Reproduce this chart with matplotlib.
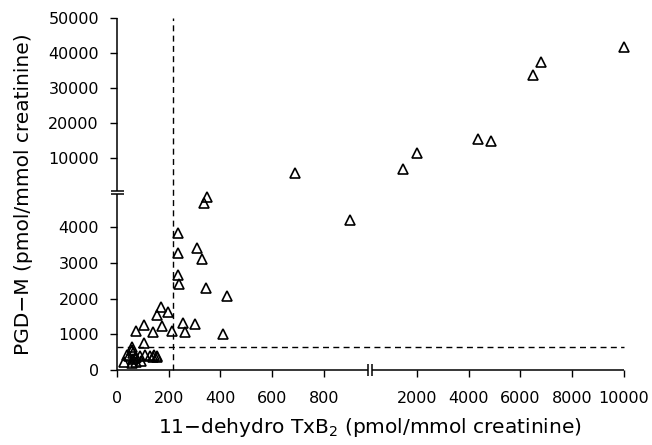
#!/usr/bin/env python3

"""Scatter of urinary PGD-M against 11-dehydro TxB2 on broken (two-segment) axes."""

import numpy as np
import matplotlib

matplotlib.use("Agg")
import matplotlib.pyplot as plt

# data (pmol/mmol creatinine)
txb2 = [
    26, 39, 45, 58, 60, 62, 58, 70, 73, 75, 88, 92, 108, 104, 127, 140, 143, 153, 156, 63,
    73, 104, 140, 156, 169, 175, 198, 214, 257, 263, 302, 409, 427,
    235, 235, 235, 240, 311, 330, 343, 337, 348, 901,
    689, 1447, 1990, 4350, 4860, 6480, 6800, 10000,
]
pgdm = [
    233, 420, 380, 650, 550, 470, 190, 330, 230, 370, 380, 250, 420, 750, 390, 375, 420, 390, 370, 300,
    1090, 1260, 1075, 1540, 1770, 1230, 1630, 1100, 1320, 1070, 1290, 1010, 2070,
    3830, 3290, 2660, 2400, 3430, 3100, 2300, 4680, 4850, 4200,
    5900, 6860, 11430, 15430, 15030, 33800, 37600, 41900,
]

x_ticks = [0, 200, 400, 600, 800, 2000, 4000, 6000, 8000, 10000]
y_ticks = [0, 1000, 2000, 3000, 4000, 10000, 20000, 30000, 40000, 50000]

txb2_cutoff = 215
pgdm_cutoff = 650

# x: 0-1000 linear, then 2000-10000 compressed 10x
X_SPLIT = 1000.0
# y: 0-5100 linear, then 0-50000 compressed ~10x
Y_SPLIT = 5100.0


def fwd_x(x):
    x = np.asarray(x, dtype=float)
    return np.where(x <= X_SPLIT, x, 960.0 + x / 10.0)


def inv_x(u):
    u = np.asarray(u, dtype=float)
    return np.where(u <= X_SPLIT, u, np.where(u >= 1060.0, (u - 960.0) * 10.0, X_SPLIT))


def fwd_y(y):
    y = np.asarray(y, dtype=float)
    return np.where(y <= Y_SPLIT, y, 4950.0 + 0.098 * y)


def inv_y(v):
    v = np.asarray(v, dtype=float)
    lo = 4950.0 + 0.098 * Y_SPLIT
    return np.where(v <= Y_SPLIT, v, np.where(v >= lo, (v - 4950.0) / 0.098, Y_SPLIT))


fig = plt.figure(figsize=(6.52, 4.45), dpi=100)
ax = fig.add_axes([0.1794, 0.1685, 0.7772, 0.7903])
ax.set_xscale("function", functions=(fwd_x, inv_x))
ax.set_yscale("function", functions=(fwd_y, inv_y))
ax.set_xlim(0, 10000)
ax.set_ylim(0, 50000)

for side in ("top", "right", "left", "bottom"):
    ax.spines[side].set_visible(False)

# axis lines with breaks
axis_kw = dict(color="black", lw=1.1, clip_on=False, solid_capstyle="butt")
ax.plot([0, 0], [0, 4922], **axis_kw)
ax.plot([0, 0], [5022, 50000], **axis_kw)
ax.plot([0, 972], [0, 0], **axis_kw)
ax.plot([988, 10000], [0, 0], **axis_kw)
ytr = ax.get_yaxis_transform()
xtr = ax.get_xaxis_transform()
for yb in (4922, 5022):
    ax.plot([-0.012, 0.014], [yb, yb], transform=ytr, **axis_kw)
for xb in (972, 988):
    ax.plot([xb, xb], [-0.016, 0.016], transform=xtr, **axis_kw)

# reference cut-offs
dash_kw = dict(color="black", lw=1.0, dashes=(4.3, 3.1))
ax.plot([txb2_cutoff, txb2_cutoff], [0, 50000], clip_on=False, **dash_kw)
ax.plot([0, 10000], [pgdm_cutoff, pgdm_cutoff], clip_on=False, **dash_kw)

ax.plot(txb2, pgdm, linestyle="none", marker="^", markersize=7.5,
        markerfacecolor="none", markeredgecolor="black", markeredgewidth=1.2,
        clip_on=False)

ax.set_xticks(x_ticks)
ax.set_xticklabels([str(t) for t in x_ticks])
ax.set_yticks(y_ticks)
ax.set_yticklabels([str(t) for t in y_ticks])
ax.minorticks_off()
ax.tick_params(axis="x", direction="out", length=5, width=1.0, pad=10, labelsize=11.5)
ax.tick_params(axis="y", direction="out", length=5, width=1.0, pad=8, labelsize=11.5)

ax.set_xlabel("11\u2212dehydro TxB$_2$ (pmol/mmol creatinine)", fontsize=14.5, labelpad=7)
ax.set_ylabel("PGD\u2212M (pmol/mmol creatinine)", fontsize=14.5, labelpad=11)

fig.savefig("out.png", dpi=100)
